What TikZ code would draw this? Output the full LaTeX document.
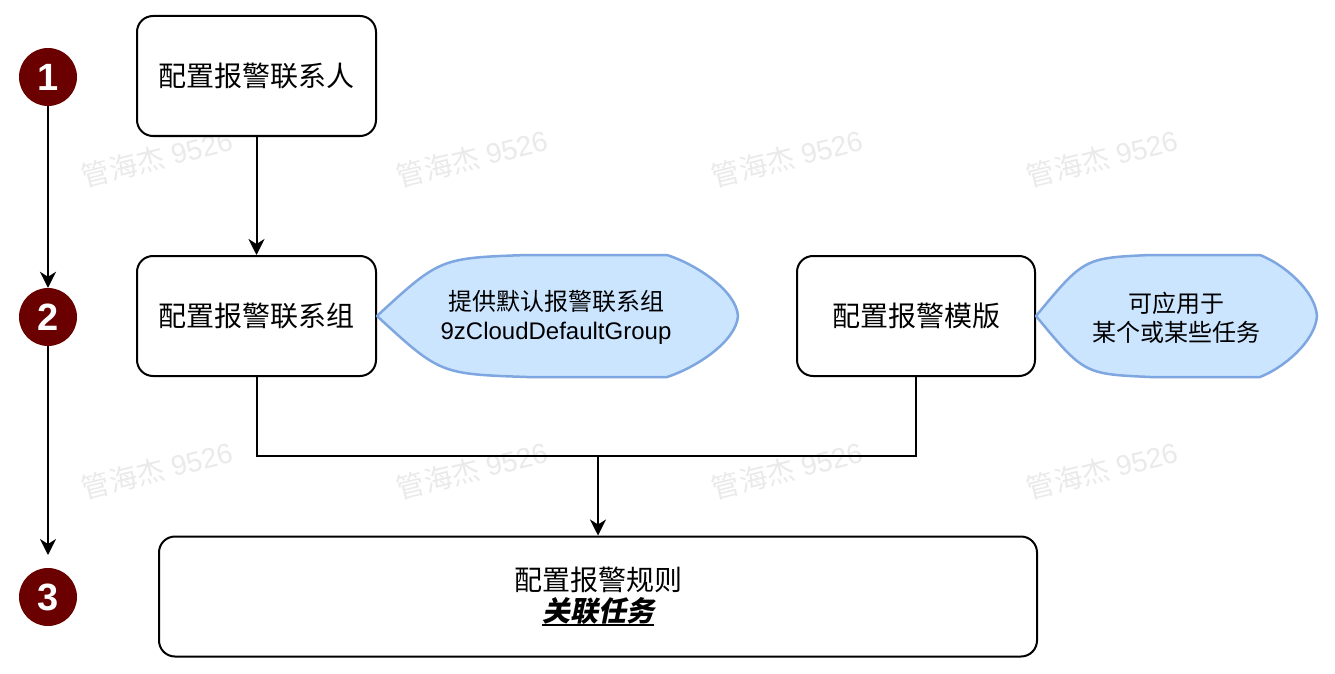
\documentclass[tikz,border=0pt]{standalone}
\usepackage{fontspec}
\setmainfont{Liberation Sans}
\newfontfamily\cjk{Noto Sans CJK SC}
\newfontfamily\cjkbi{Noto Sans CJK SC}[FakeSlant=0.2,BoldFeatures={FakeSlant=0.2}]
\usetikzlibrary{arrows.meta}
\definecolor{maroon}{HTML}{6B0000}
\definecolor{callfill}{HTML}{CCE5FF}
\definecolor{calldraw}{HTML}{7EA6E0}
\definecolor{wmark}{HTML}{EAEAEA}
\newcommand\myul[1]{\leavevmode\setbox0\hbox{#1}\rlap{\rule[-5pt]{\wd0}{2.2pt}}\box0}
\begin{document}
\begin{tikzpicture}[x=1pt,y=-1pt,
  stepbox/.style={draw=black,line width=2pt,rounded corners=16pt,fill=white,
    minimum height=120pt,inner sep=0pt,align=center,font=\fontsize{28}{33}\selectfont\cjk},
  numcirc/.style={circle,fill=maroon,minimum size=58pt,inner sep=0pt,text=white,
    font=\fontsize{38}{40}\selectfont\bfseries},
  calloutshape/.style={fill=callfill,draw=calldraw,line width=2.5pt,line join=round},
  calltext/.style={align=center,font=\fontsize{24}{29}\selectfont},
  conn/.style={line width=2pt,draw=black},
  arr/.style={conn,-{Stealth[length=16pt,width=16pt,inset=5pt]}},
  wm/.style={rotate=14,text=wmark,font=\fontsize{28}{30}\selectfont}]
\useasboundingbox (0,0) rectangle (1335,674);
\fill[white] (0,0) rectangle (1335,674);
% watermarks
\foreach \wx in {157,472,787,1102}{
  \foreach \wy in {158,470}{
    \node[wm] (w-\wx-\wy) at (\wx,\wy) {{\cjk 管海杰} 9526};
  }
}
% step circles
\node[numcirc] (c1) at (48,77) {1};
\node[numcirc] (c2) at (48,317) {2};
\node[numcirc] (c3) at (48,597) {3};
\coordinate (c3t) at (48,555);
\draw[arr] (c1) -- (c2);
\draw[arr] (c2) -- (c3t);
% boxes
\node[stepbox,minimum width=239pt] (a) at (256.5,76) {配置报警联系人};
\node[stepbox,minimum width=239pt] (b) at (256.5,316) {配置报警联系组};
\node[stepbox,minimum width=238pt] (c) at (916,316) {配置报警模版};
\node[stepbox,minimum width=878pt] (d) at (598,596.5)
  {配置报警规则\\[-2pt]\myul{\cjkbi\bfseries 关联任务}};
% callouts
\draw[calloutshape] (b.east) .. controls (440,258) .. (527,255) -- (667,255)
  .. controls (695,264) and (736,290) .. (738,316)
  .. controls (736,342) and (695,368) .. (667,377) -- (527,377)
  .. controls (440,374) .. (b.east) -- cycle;
\node[calltext] (t1) at (556,317) {{\cjk 提供默认报警联系组}\\9zCloudDefaultGroup};
\draw[calloutshape] (c.east) .. controls (1084,258) .. (1150,255) -- (1260,255)
  .. controls (1283,264) and (1315,290) .. (1317,316)
  .. controls (1315,342) and (1283,368) .. (1260,377) -- (1150,377)
  .. controls (1084,374) .. (c.east) -- cycle;
\node[calltext,font=\fontsize{24}{29}\selectfont\cjk] (t2) at (1176,318) {可应用于\\某个或某些任务};
% connectors
\coordinate (j) at (598,456);
\draw[arr] (a.south) -- (b.north);
\draw[conn] (b.south) |- (j) -| (c.south);
\draw[arr] (j) -- (d.north);
\end{tikzpicture}
\end{document}
